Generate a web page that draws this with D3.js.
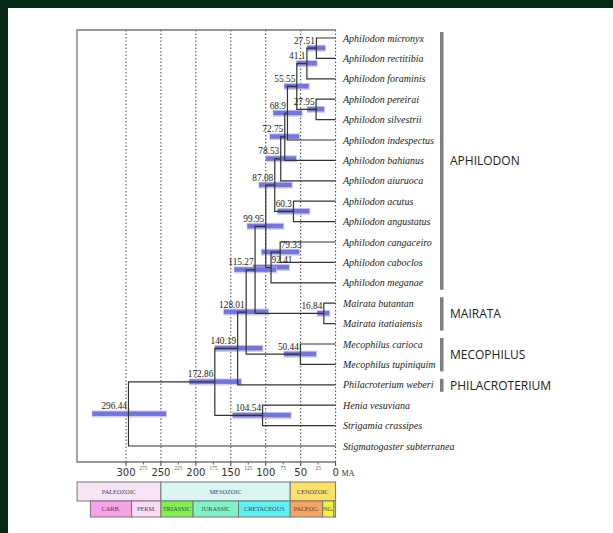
<!DOCTYPE html>
<html>
<head>
<meta charset="utf-8">
<script src="https://cdn.jsdelivr.net/npm/d3@7"></script>
<style>
  body { margin: 0; background: #fff; }
  svg { display: block; }
</style>
</head>
<body>
<div id="chart"></div>
<script>
// tips, top to bottom
var tipNames = [
    "Aphilodon micronyx", "Aphilodon rectitibia", "Aphilodon foraminis",
    "Aphilodon pereirai", "Aphilodon silvestrii", "Aphilodon indespectus",
    "Aphilodon bahianus", "Aphilodon aiuruoca", "Aphilodon acutus",
    "Aphilodon angustatus", "Aphilodon cangaceiro", "Aphilodon caboclos",
    "Aphilodon meganae", "Mairata butantan", "Mairata itatiaiensis",
    "Mecophilus carioca", "Mecophilus tupiniquim", "Philacroterium weberi",
    "Henia vesuviana", "Strigamia crassipes", "Stigmatogaster subterranea"
];

// internal nodes: age (Ma), 95% HPD interval, children ("t" = tip, "n" = node)
var nodeAges = [27.51, 41.1, 27.95, 55.55, 68.9, 72.75, 78.53, 60.3, 87.08, 79.33,
    92.41, 99.95, 16.84, 115.27, 50.44, 128.01, 140.19, 104.54, 172.86, 296.44];
var nodeHpdOld = [40.5, 55.7, 40.5, 73.4, 89.2, 93.9, 99.6, 82.9, 109.6, 105.8,
    118, 126.4, 26.2, 145, 73.9, 160, 172.6, 147.3, 209.4, 348.2];
var nodeHpdYoung = [15.2, 27, 16.6, 38.5, 48.5, 52.4, 56.7, 37.6, 62.8, 52.4,
    66.7, 74.9, 9, 85.3, 28, 96.7, 104.9, 64.3, 135.4, 242.7];
var nodeChildren = [
    ["t0", "t1"], ["n0", "t2"], ["t3", "t4"], ["n1", "n2"], ["n3", "t5"],
    ["n4", "t6"], ["n5", "t7"], ["t8", "t9"], ["n6", "n7"], ["t10", "t11"],
    ["n9", "t12"], ["n8", "n10"], ["t13", "t14"], ["n11", "n12"], ["t15", "t16"],
    ["n13", "n14"], ["n15", "t17"], ["t18", "t19"], ["n16", "n17"], ["n18", "t20"]
];
// nodes whose age label sits to the right of the node
var labelRight = [9, 10];

// clade brackets on the right
var cladeNames = ["APHILODON", "MAIRATA", "MECOPHILUS", "PHILACROTERIUM"];
var cladeFirstTip = [0, 13, 15, 17];
var cladeLastTip = [12, 14, 16, 17];

// axis
var majorTicks = [300, 250, 200, 150, 100, 50, 0];
var minorTicks = [275, 225, 175, 125, 75, 25];

// geologic time scale
var eraNames = ["PALEOZOIC", "MESOZOIC", "CENOZOIC"];
var eraStart = [370, 250, 65];
var eraEnd = [250, 65, 0];
var eraColors = ["#f7e4f4", "#d9f6f4", "#fbe06a"];
var periodNames = ["CARB.", "PERM.", "TRIASSIC", "JURASSIC", "CRETACEOUS", "PALEOG.", "NG.", ""];
var periodStart = [351, 292, 250, 204, 139, 65, 18.5, 2.3];
var periodEnd = [292, 250, 204, 139, 65, 18.5, 2.3, 0];
var periodColors = ["#f7a2e4", "#fbdcf5", "#7ff04f", "#80f3c6", "#5df0f2", "#f8a55c", "#f3f43c", "#fdfd9a"];

var W = 613, H = 533;
var frame = { left: 77, top: 30, right: 336, bottom: 462 };

var scalex = d3.scaleLinear().domain([300, 0]).range([126, 335.6]);
var scaley = d3.scaleLinear().domain([0, tipNames.length - 1]).range([38, 446]);

var svg = d3.select("#chart").append("svg")
    .attr("width", W)
    .attr("height", H);

// dark green page border
svg.append("rect").attr("width", W).attr("height", H).attr("fill", "#072a16");
svg.append("rect").attr("x", 8).attr("y", 8).attr("width", W - 8).attr("height", H - 8).attr("fill", "#fff");

// dotted time lines
svg.append("g").selectAll("line")
    .data(majorTicks)
    .enter().append("line")
    .attr("x1", function (d) { return scalex(d); })
    .attr("x2", function (d) { return scalex(d); })
    .attr("y1", frame.top)
    .attr("y2", frame.bottom)
    .attr("stroke", "#444")
    .attr("stroke-width", 1)
    .attr("stroke-dasharray", "1.5,2");

// frame: left, top, bottom
svg.append("path")
    .attr("d", "M" + frame.right + "," + frame.top + "H" + frame.left + "V" + frame.bottom + "H" + frame.right)
    .attr("fill", "none")
    .attr("stroke", "#777")
    .attr("stroke-width", 1.3);

// axis ticks and labels
var axis = svg.append("g").attr("transform", "translate(0," + frame.bottom + ")");
axis.selectAll(".major")
    .data(majorTicks)
    .enter().append("line")
    .attr("x1", function (d) { return scalex(d); })
    .attr("x2", function (d) { return scalex(d); })
    .attr("y1", 0).attr("y2", 4)
    .attr("stroke", "#444");
axis.selectAll(".minor")
    .data(minorTicks)
    .enter().append("line")
    .attr("x1", function (d) { return scalex(d); })
    .attr("x2", function (d) { return scalex(d); })
    .attr("y1", 0).attr("y2", 2.5)
    .attr("stroke", "#666");
axis.selectAll(".majorlab")
    .data(majorTicks)
    .enter().append("text")
    .attr("x", function (d) { return scalex(d); })
    .attr("y", 13.5)
    .attr("text-anchor", "middle")
    .style("font", "10px 'DejaVu Sans', sans-serif")
    .attr("fill", "#333")
    .text(function (d) { return d; });
axis.selectAll(".minorlab")
    .data(minorTicks)
    .enter().append("text")
    .attr("x", function (d) { return scalex(d); })
    .attr("y", 7.5)
    .attr("text-anchor", "middle")
    .style("font", "5.5px 'Liberation Serif', serif")
    .attr("fill", "#555")
    .text(function (d) { return d; });
axis.append("text")
    .attr("x", scalex(0) + 6)
    .attr("y", 13.5)
    .style("font", "8px 'Liberation Serif', serif")
    .attr("fill", "#333")
    .text("MA");

// geologic time scale boxes
var ts = svg.append("g");
var eraTop = 482, eraH = 19, perH = 16;
eraNames.forEach(function (name, i) {
    var x0 = scalex(eraStart[i]), x1 = scalex(eraEnd[i]);
    ts.append("rect").attr("x", x0).attr("y", eraTop).attr("width", x1 - x0).attr("height", eraH)
        .attr("fill", eraColors[i]).attr("stroke", "#777").attr("stroke-width", 1);
    ts.append("text").attr("x", (x0 + x1) / 2).attr("y", eraTop + eraH / 2 + 2.2)
        .attr("text-anchor", "middle")
        .style("font", "6.3px 'Liberation Serif', serif")
        .attr("fill", "#4a3d55").text(name);
});
periodNames.forEach(function (name, i) {
    var x0 = scalex(periodStart[i]), x1 = scalex(periodEnd[i]);
    ts.append("rect").attr("x", x0).attr("y", eraTop + eraH).attr("width", x1 - x0).attr("height", perH)
        .attr("fill", periodColors[i]).attr("stroke", "#777").attr("stroke-width", 1);
    ts.append("text").attr("x", (x0 + x1) / 2).attr("y", eraTop + eraH + perH / 2 + 2.2)
        .attr("text-anchor", "middle")
        .style("font", "6.3px 'Liberation Serif', serif")
        .attr("fill", "#4a3d55").text(name);
});

// tree layout: node y = middle of its children
var pos = {};
tipNames.forEach(function (d, i) {
    pos["t" + i] = { x: scalex(0), y: scaley(i) };
});
nodeAges.forEach(function (age, i) {
    var c = nodeChildren[i];
    pos["n" + i] = { x: scalex(age), y: (pos[c[0]].y + pos[c[1]].y) / 2 };
});

// HPD bars
var bars = svg.append("g");
nodeAges.forEach(function (age, i) {
    var x0 = scalex(nodeHpdOld[i]), x1 = scalex(nodeHpdYoung[i]);
    var y = pos["n" + i].y;
    bars.append("rect").attr("x", x0 - 0.5).attr("y", y - 3.5).attr("width", x1 - x0 + 1.5).attr("height", 7)
        .attr("fill", "#b9b9c6").attr("opacity", 0.7);
    bars.append("rect").attr("x", x0).attr("y", y - 2.5).attr("width", x1 - x0).attr("height", 4.5)
        .attr("fill", "#6c6ce2").attr("opacity", 0.9);
});

// branches
var tree = svg.append("g").attr("fill", "none").attr("stroke", "#333").attr("stroke-width", 1.2);
nodeAges.forEach(function (age, i) {
    var p = pos["n" + i];
    var a = pos[nodeChildren[i][0]], b = pos[nodeChildren[i][1]];
    tree.append("path").attr("d",
        "M" + a.x + "," + a.y + "H" + p.x + "V" + b.y + "H" + b.x);
});

// node age labels
svg.append("g").selectAll("text")
    .data(nodeAges)
    .enter().append("text")
    .attr("x", function (d, i) {
        return labelRight.indexOf(i) >= 0 ? pos["n" + i].x + 0.5 : pos["n" + i].x - 1.5;
    })
    .attr("y", function (d, i) { return pos["n" + i].y - 4.5; })
    .attr("text-anchor", function (d, i) { return labelRight.indexOf(i) >= 0 ? "start" : "end"; })
    .style("font", "9.3px 'Liberation Serif', serif")
    .attr("fill", "#222")
    .text(function (d) { return d; });

// tip labels
svg.append("g").selectAll("text")
    .data(tipNames)
    .enter().append("text")
    .attr("x", 343)
    .attr("y", function (d, i) { return scaley(i) + 3.5; })
    .style("font", "italic 10px 'Liberation Serif', serif")
    .attr("fill", "#222")
    .text(function (d) { return d; });

// clade brackets
var clades = svg.append("g");
cladeNames.forEach(function (name, i) {
    var y0 = scaley(cladeFirstTip[i]) - 6, y1 = scaley(cladeLastTip[i]) + 7;
    clades.append("rect").attr("x", 440).attr("y", y0).attr("width", 3.5).attr("height", y1 - y0)
        .attr("fill", "#808080");
    clades.append("text").attr("x", 450).attr("y", (y0 + y1) / 2 + 4.5)
        .style("font", "12px 'Open Sans', sans-serif")
        .attr("fill", "#222")
        .text(name);
});
</script>
</body>
</html>
